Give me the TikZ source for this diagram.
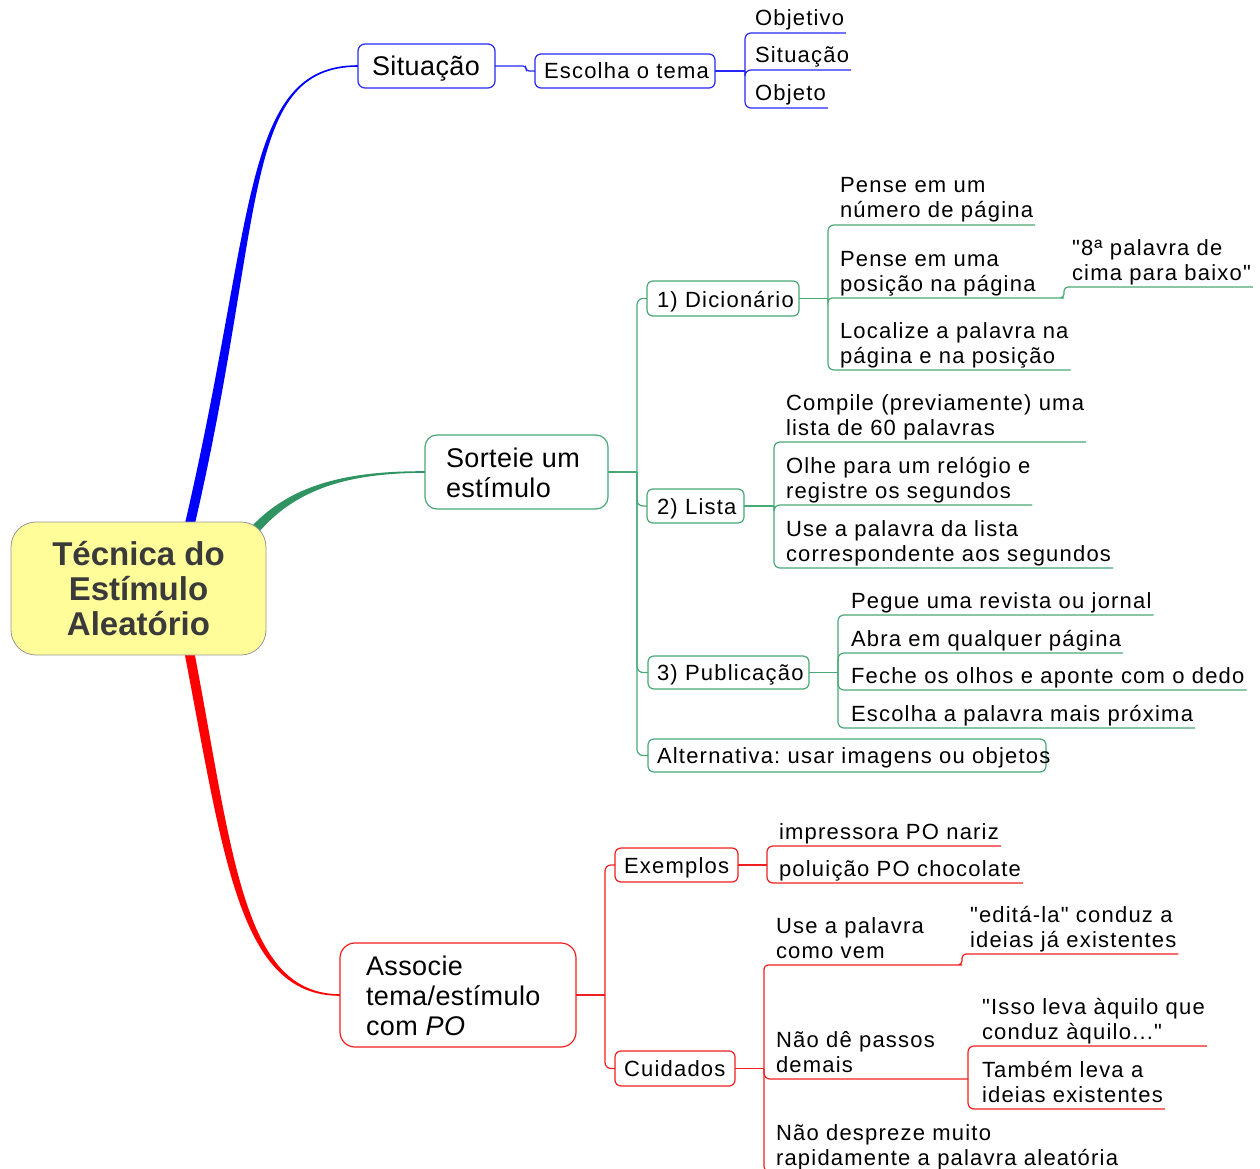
\documentclass[tikz,border=0pt]{standalone}
\usepackage{fontspec}
\setmainfont{Liberation Sans}[LetterSpace=5.5, Ligatures=TeXOff]
\newfontfamily\branchfont{Liberation Sans}[LetterSpace=1.5, Ligatures=TeXOff]
\newfontfamily\centralfont{Liberation Sans}
\usetikzlibrary{calc,backgrounds}

\definecolor{bluethick}{RGB}{0,0,255}
\definecolor{blueline}{RGB}{40,40,245}
\definecolor{greenthick}{RGB}{48,148,98}
\definecolor{greenline}{RGB}{72,168,118}
\definecolor{redthick}{RGB}{255,0,0}
\definecolor{redline}{RGB}{240,30,30}
\definecolor{rootfill}{RGB}{255,253,153}
\definecolor{rootedge}{RGB}{150,150,150}
\definecolor{roottext}{RGB}{58,58,58}

\newcommand\leafsize{\fontsize{22}{25}\selectfont}
\newcommand\branchsize{\fontsize{27}{30}\selectfont}
\newcommand\centralsize{\fontsize{33}{35}\selectfont}
\frenchspacing

\begin{document}
\begin{tikzpicture}[x=1pt,y=-1pt,
  every node/.style={inner sep=0pt,outer sep=0pt},
  topbox/.style={draw=#1, line width=1.2pt, fill=white, anchor=north west},
  subbox/.style={draw=#1, line width=1.2pt, fill=white, rounded corners=6pt, anchor=north west},
  toptext/.style={anchor=base west, align=left, font=\branchfont\branchsize},
  subtext/.style={anchor=base west, font=\leafsize},
  leaf/.style={anchor=base west, align=left, inner xsep=2pt, font=\leafsize},
  link/.style={draw=#1, line width=1.2pt, rounded corners=6pt},
]
\useasboundingbox (0,0) rectangle (1260,1169);
\clip (0,0) rectangle (1260,1169);

% ---------- central topic ----------
\node[draw=rootedge, line width=0.8pt, fill=rootfill, rounded corners=25pt,
      minimum width=255pt, minimum height=133pt, anchor=north west] (root) at (11,522) {};
\node[anchor=base, align=center, font=\centralfont\bfseries\centralsize, text=roottext]
      (root-t) at (138.5,635) {Técnica do\\Estímulo\\Aleatório};

% ---------- blue branch: Situação ----------
\node[topbox=blueline, rounded corners=7pt, minimum width=137pt, minimum height=44pt] (sit) at (358,44) {};
\node[toptext] (sit-t) at (372,76) {Situação};
\node[subbox=blueline, minimum width=180pt, minimum height=34pt] (esc) at (535,54) {};
\node[subtext] (esc-t) at (544,79) {Escolha o tema};
\draw[link=blueline, rounded corners=3pt] (sit.east) -- ++(31,0) coordinate (sitJ) |- (esc.west);

\coordinate (escJ) at ($(esc.east)+(30,0)$);
\draw[link=blueline] (esc.east) -- (escJ);
\node[leaf] (obj1) at (753,26) {Objetivo};
\node[leaf] (obj2) at (753,63) {Situação};
\node[leaf] (obj3) at (753,101) {Objeto};
\draw[link=blueline] (escJ) |- ($(obj1.base east)+(0,7)$);
\draw[link=blueline] (escJ) |- ($(obj2.base east)+(0,7)$);
\draw[link=blueline] (escJ) |- ($(obj3.base east)+(0,7)$);

% ---------- green branch: Sorteie um estímulo ----------
\node[topbox=greenline, rounded corners=12pt, minimum width=183pt, minimum height=74pt] (sort) at (425,435) {};
\node[toptext] (sort-t) at (446,497) {Sorteie um\\estímulo};
\coordinate (sortJ) at ($(sort.east)+(29,0)$);
\draw[link=greenline] (sort.east) -- (sortJ);

\node[subbox=greenline, minimum width=152pt, minimum height=35pt] (dic) at (647,281) {};
\node[subtext] (dic-t) at (657,307) {1) Dicionário};
\node[subbox=greenline, minimum width=97pt, minimum height=34pt] (lista) at (647,489) {};
\node[subtext] (lista-t) at (657,514) {2) Lista};
\node[subbox=greenline, minimum width=161pt, minimum height=33pt] (pub) at (648,656) {};
\node[subtext] (pub-t) at (657,680) {3) Publicação};
\node[subbox=greenline, minimum width=398pt, minimum height=33pt] (alt) at (648,739) {};
\node[subtext] (alt-t) at (657,763) {Alternativa: usar imagens ou objetos};
\draw[link=greenline] (sortJ) |- (dic.west);
\draw[link=greenline] (sortJ) |- (lista.west);
\draw[link=greenline] (sortJ) |- (pub.west);
\draw[link=greenline] (sortJ) |- (alt.west);

% Dicionário
\coordinate (dicJ) at ($(dic.east)+(29,0)$);
\draw[link=greenline] (dic.east) -- (dicJ);
\node[leaf] (d1) at (838,218) {Pense em um\\número de página};
\node[leaf] (d2) at (838,291) {Pense em uma\\posição na página};
\node[leaf] (d3) at (838,363) {Localize a palavra na\\página e na posição};
\node[leaf] (d2a) at (1070,280) {"8ª palavra de\\cima para baixo"};
\coordinate (d2end) at (1060,298);
\draw[link=greenline] (dicJ) |- ($(d1.base east)+(0,7)$);
\draw[link=greenline] (dicJ) |- ($(d3.base east)+(0,7)$);
\draw[link=greenline, rounded corners=4pt] (dicJ) |- (d2end)
      -| ($(d2a.base west)+(-6,7)$) -- ($(d2a.base east)+(0,7)$);

% Lista
\coordinate (listaJ) at ($(lista.east)+(30,0)$);
\draw[link=greenline] (lista.east) -- (listaJ);
\node[leaf] (l1) at (784,435) {Compile (previamente) uma\\lista de 60 palavras};
\node[leaf] (l2) at (784,498) {Olhe para um relógio e\\registre os segundos};
\node[leaf] (l3) at (784,561) {Use a palavra da lista\\correspondente aos segundos};
\draw[link=greenline] (listaJ) |- ($(l1.base east)+(0,7)$);
\draw[link=greenline] (listaJ) |- ($(l2.base east)+(0,7)$);
\draw[link=greenline] (listaJ) |- ($(l3.base east)+(0,7)$);

% Publicação
\coordinate (pubJ) at ($(pub.east)+(29,0)$);
\draw[link=greenline] (pub.east) -- (pubJ);
\node[leaf] (p1) at (849,608) {Pegue uma revista ou jornal};
\node[leaf] (p2) at (849,646) {Abra em qualquer página};
\node[leaf] (p3) at (849,683) {Feche os olhos e aponte com o dedo};
\node[leaf] (p4) at (849,721) {Escolha a palavra mais próxima};
\draw[link=greenline] (pubJ) |- ($(p1.base east)+(0,7)$);
\draw[link=greenline] (pubJ) |- ($(p2.base east)+(0,7)$);
\draw[link=greenline] (pubJ) |- ($(p3.base east)+(0,7)$);
\draw[link=greenline] (pubJ) |- ($(p4.base east)+(0,7)$);

% ---------- red branch: Associe tema/estímulo com PO ----------
\node[topbox=redline, rounded corners=15pt, minimum width=236pt, minimum height=104pt] (assoc) at (340,943) {};
\node[toptext] (assoc-t) at (366,1035) {Associe\\tema/estímulo\\com \textit{PO}};
\coordinate (assocJ) at ($(assoc.east)+(29,0)$);
\draw[link=redline] (assoc.east) -- (assocJ);

\node[subbox=redline, minimum width=123pt, minimum height=34pt] (exem) at (615,848) {};
\node[subtext] (exem-t) at (624,873) {Exemplos};
\node[subbox=redline, minimum width=120pt, minimum height=35pt] (cuid) at (615,1051) {};
\node[subtext] (cuid-t) at (624,1076) {Cuidados};
\draw[link=redline] (assocJ) |- (exem.west);
\draw[link=redline] (assocJ) |- (cuid.west);

% Exemplos
\coordinate (exemJ) at ($(exem.east)+(29,0)$);
\draw[link=redline] (exem.east) -- (exemJ);
\node[leaf] (e1) at (777,839) {impressora PO nariz};
\node[leaf] (e2) at (777,876) {poluição PO chocolate};
\draw[link=redline] (exemJ) |- ($(e1.base east)+(0,7)$);
\draw[link=redline] (exemJ) |- ($(e2.base east)+(0,7)$);

% Cuidados
\coordinate (cuidJ) at ($(cuid.east)+(29,0)$);
\draw[link=redline] (cuid.east) -- (cuidJ);
\node[leaf] (c1) at (774,958) {Use a palavra\\como vem};
\node[leaf] (c1a) at (968,947) {"editá-la" conduz a\\ideias já existentes};
\node[leaf] (c2) at (774,1072) {Não dê passos\\demais};
\node[leaf] (c2a) at (980,1039) {"Isso leva àquilo que\\conduz àquilo..."};
\node[leaf] (c2b) at (980,1102) {Também leva a\\ideias existentes};
\node[leaf] (c3) at (774,1165) {Não despreze muito\\rapidamente a palavra aleatória};
\coordinate (c1end) at (958,965);
\coordinate (c2end) at (968,1079);
\draw[link=redline, rounded corners=4pt] (cuidJ) |- (c1end)
      -| ($(c1a.base west)+(-6,7)$) -- ($(c1a.base east)+(0,7)$);
\draw[link=redline] (cuidJ) |- (c2end);
\draw[link=redline] (cuidJ) |- ($(c3.base east)+(0,7)$);
\draw[link=redline] (c2end) |- ($(c2a.base east)+(0,7)$);
\draw[link=redline] (c2end) |- ($(c2b.base east)+(0,7)$);

% ---------- tapered main branches ----------
\begin{scope}[on background layer]
\fill[bluethick] ($(root.north west)+(172,10)$) .. controls (256,222) and (240,65) ..
      ($(sit.west)+(0,-0.8)$) -- ($(sit.west)+(0,0.8)$)
      .. controls (240,67) and (266,222) .. ($(root.north west)+(182,10)$) -- cycle;
\fill[greenthick] (252,526) .. controls (293,483) and (350,471) ..
      ($(sort.west)+(0,-0.8)$) -- ($(sort.west)+(0,0.8)$)
      .. controls (350,473) and (297,488) .. (259,532) -- cycle;
\fill[redthick] ($(root.south west)+(172,-10)$) .. controls (224,857) and (238,996) ..
      ($(assoc.west)+(0,0.8)$) -- ($(assoc.west)+(0,-0.8)$)
      .. controls (242,994) and (233,853) .. ($(root.south west)+(182,-10)$) -- cycle;
\end{scope}
\end{tikzpicture}
\end{document}
